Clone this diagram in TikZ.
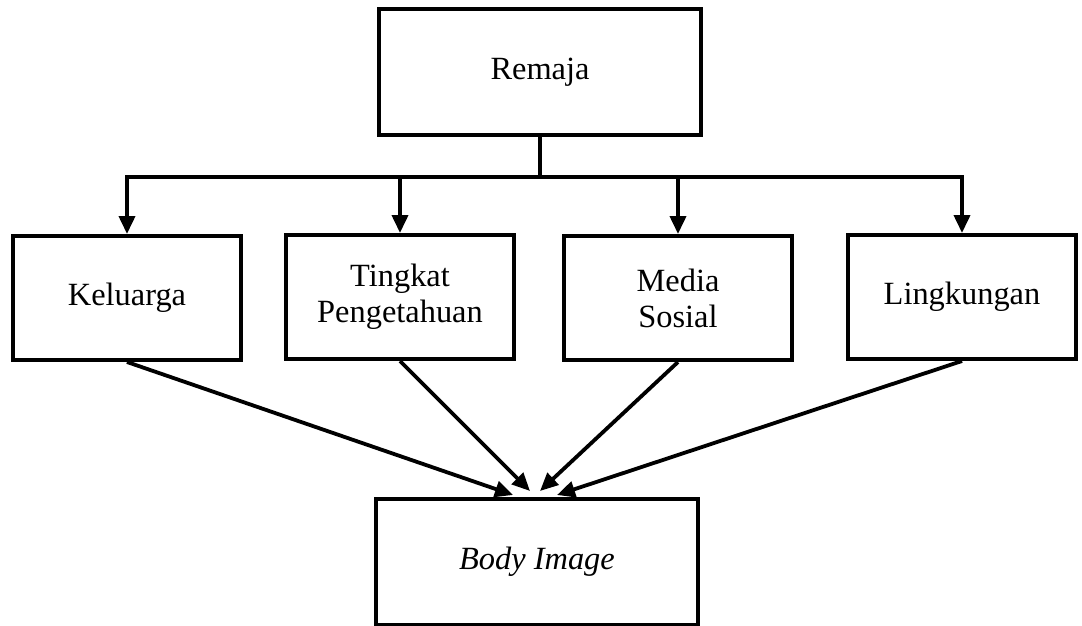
\documentclass[tikz,border=0pt]{standalone}
\usepackage{fontspec}
\setmainfont{Liberation Serif}
\usepackage{tikz}
\usetikzlibrary{arrows.meta}

\begin{document}
\begin{tikzpicture}[x=0.5pt, y=-0.5pt,
	box/.style = {draw, line width=2pt, inner sep=0pt, minimum width=114pt, minimum height=62pt,
		align=center, font=\fontsize{16.2}{18}\selectfont},
	wide/.style = {minimum width=161pt, minimum height=63pt},
	tip/.style = {line width=1.9pt, -{Triangle[length=9pt, width=8pt]}}]
	\useasboundingbox (0,0) rectangle (1082,626);
	\node[box, wide] (r) at (540,72) {Remaja};
	\node[box] (k) at (127,298) {Keluarga};
	\node[box] (t) at (400,297) {Tingkat\\Pengetahuan};
	\node[box] (m) at (678,298) {Media\\Sosial};
	\node[box] (l) at (962,297) {Lingkungan};
	\node[box, wide] (b) at (537,562) {\itshape Body Image};
	% cabang dari remaja
	\draw[tip] (r.south) -- ++(0,40) -| (k.north);
	\draw[tip] (r.south) -- ++(0,40) -| (t.north);
	\draw[tip] (r.south) -- ++(0,40) -| (m.north);
	\draw[tip] (r.south) -- ++(0,40) -| (l.north);
	\path
		(k.south) edge[tip] ([xshift=-12pt, yshift=1pt]b.north)
		(t.south) edge[tip] ([xshift=-3.5pt, yshift=3pt]b.north)
		(m.south) edge[tip] ([xshift=1.5pt, yshift=3pt]b.north)
		(l.south) edge[tip] ([xshift=10pt, yshift=1pt]b.north) ;
\end{tikzpicture}
\end{document}
